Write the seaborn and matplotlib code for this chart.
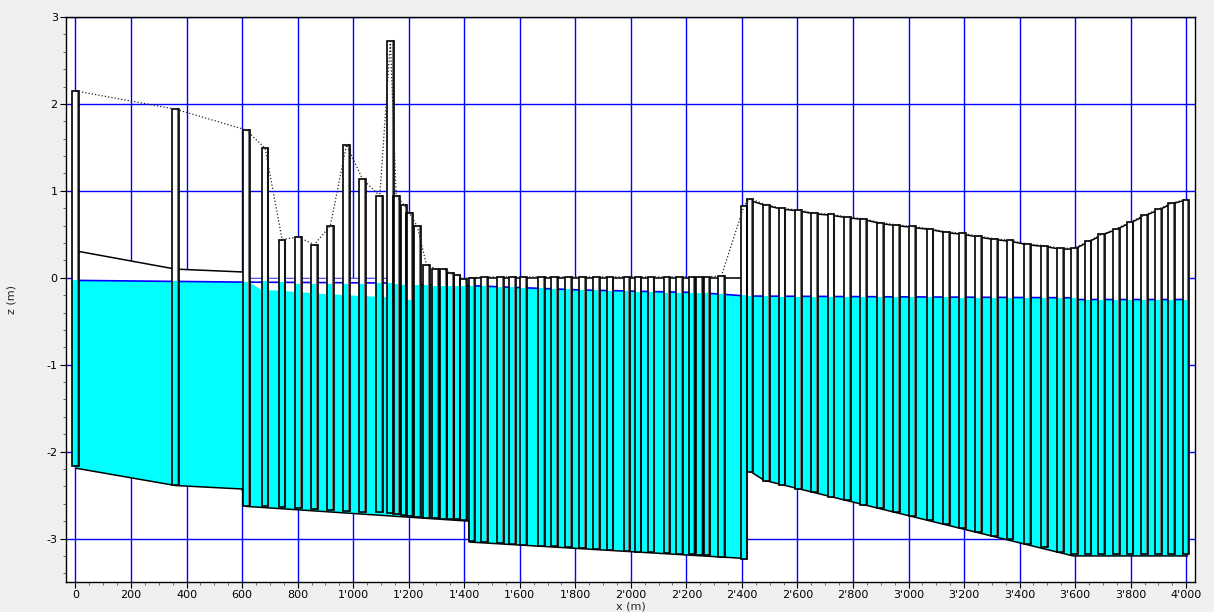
import numpy as np
import matplotlib
matplotlib.use("Agg")
import matplotlib.pyplot as plt
from matplotlib.patches import Rectangle
from matplotlib.ticker import MultipleLocator, FuncFormatter
import seaborn as sns

sns.set_style("ticks")
plt.rcParams['font.family'] = ['DejaVu Sans']

# ---------------- data ----------------
shaft_x = [0, 360, 615,
           683, 744, 802, 860, 918, 976, 1033, 1096, 1134, 1155, 1183, 1203, 1231,
           1264, 1297, 1325, 1350, 1374, 1398,
           1428, 1474, 1530, 1575, 1614, 1678, 1725, 1776, 1827, 1876, 1925, 1986,
           2026, 2073, 2130, 2175, 2220, 2247, 2274, 2326,
           2408, 2429, 2488, 2545, 2603, 2661, 2721, 2781, 2838, 2898, 2956, 3014,
           3078, 3136, 3194, 3251, 3309, 3366, 3429, 3489, 3547, 3597, 3647, 3696,
           3748, 3798, 3849, 3900, 3948, 3999]
shaft_top = [2.15, 1.94, 1.70,
             1.49, 0.44, 0.47, 0.38, 0.60, 1.53, 1.14, 0.94, 2.72, 0.94, 0.84, 0.74, 0.59,
             0.15, 0.105, 0.10, 0.05, 0.03, -0.01,
             0.00, 0.01, 0.01, 0.01, 0.01, 0.01, 0.01, 0.01, 0.01, 0.01, 0.01, 0.01,
             0.01, 0.01, 0.01, 0.01, 0.01, 0.01, 0.01, 0.02,
             0.83, 0.91, 0.84, 0.80, 0.78, 0.745, 0.73, 0.70, 0.68, 0.635, 0.61, 0.59,
             0.565, 0.53, 0.51, 0.48, 0.45, 0.43, 0.39, 0.37, 0.34, 0.34, 0.42, 0.50,
             0.565, 0.64, 0.72, 0.79, 0.86, 0.90]
shaft_bottom = [-2.17, -2.38, -2.62,
                -2.63, -2.64, -2.65, -2.66, -2.67, -2.68, -2.69, -2.70, -2.71, -2.72, -2.73, -2.74, -2.75,
                -2.76, -2.76, -2.77, -2.77, -2.78, -2.79,
                -3.03, -3.04, -3.05, -3.06, -3.07, -3.08, -3.09, -3.10, -3.11, -3.12, -3.13, -3.14,
                -3.15, -3.16, -3.17, -3.18, -3.18, -3.19, -3.19, -3.21,
                -3.23, -2.24, -2.34, -2.38, -2.43, -2.47, -2.52, -2.56, -2.61, -2.65, -2.70, -2.74,
                -2.79, -2.83, -2.88, -2.92, -2.97, -3.01, -3.06, -3.10, -3.15, -3.18, -3.18, -3.18,
                -3.18, -3.18, -3.18, -3.18, -3.18, -3.18]
shaft_water = [-0.03, -0.04, -0.05,
               -0.04, -0.05, -0.07, -0.07, -0.07, -0.07, -0.07, -0.06, -0.06, -0.07, -0.08, -0.26, -0.08,
               -0.085, -0.09, -0.09, -0.09, -0.09, -0.09,
               -0.09, -0.10, -0.11, -0.11, -0.12, -0.12, -0.13, -0.13, -0.14, -0.14, -0.15, -0.15,
               -0.16, -0.16, -0.17, -0.17, -0.18, -0.18, -0.18, -0.19,
               -0.20, -0.21, -0.21, -0.22, -0.22, -0.22, -0.22, -0.22, -0.22, -0.22, -0.22, -0.22,
               -0.22, -0.22, -0.23, -0.23, -0.23, -0.23, -0.23, -0.23, -0.23, -0.23, -0.25, -0.25,
               -0.25, -0.25, -0.25, -0.25, -0.25, -0.25]

invert_x = [0, 360, 600, 615, 1418, 1418, 2417, 2417, 2480, 3593, 4005]
invert_z = [-2.19, -2.39, -2.43, -2.63, -2.80, -3.04, -3.23, -2.20, -2.33, -3.20, -3.20]

crown1_x = [0, 360, 615]
crown1_z = [0.31, 0.10, 0.065]
crown2_x = [615, 1240, 1252, 1290, 1320, 1345, 1370, 1395, 1418]
crown2_z = [-0.01, -0.01, 0.15, 0.11, 0.10, 0.05, 0.03, -0.01, 0.0]
crown3_x = [1418, 2417]
crown3_z = [0.0, 0.0]
crown4_x = [2418, 2488, 2545, 2603, 2661, 2721, 2781, 2838, 2898, 2956, 3014, 3078, 3136,
            3194, 3251, 3309, 3366, 3429, 3489, 3547, 3597, 3647, 3696, 3748, 3798, 3849,
            3900, 3948, 4005]
crown4_z = [0.90, 0.83, 0.79, 0.77, 0.735, 0.72, 0.69, 0.67, 0.625, 0.60, 0.58, 0.555, 0.52,
            0.50, 0.47, 0.44, 0.42, 0.38, 0.36, 0.33, 0.33, 0.41, 0.49, 0.555, 0.63, 0.71,
            0.78, 0.85, 0.90]

pipe_water_x = [0, 615, 630, 670, 744, 802, 860, 918, 976, 1033, 1096, 1125, 1140, 1220,
                1418, 1818, 2239, 2333, 2417, 3597, 3610, 4005]
pipe_water_z = [-0.03, -0.05, -0.06, -0.14, -0.15, -0.165, -0.18, -0.19, -0.20, -0.21, -0.22,
                -0.225, -0.06, -0.08, -0.09, -0.14, -0.17, -0.19, -0.21, -0.23, -0.25, -0.25]

wl_x = [0, 615, 1134, 1220, 1418, 1818, 2239, 2333, 2417, 3597, 3610, 4005]
wl_z = [-0.03, -0.05, -0.06, -0.08, -0.09, -0.14, -0.17, -0.19, -0.21, -0.23, -0.25, -0.25]

x_ticks = list(range(0, 4001, 200))
y_ticks = [-3, -2, -1, 0, 1, 2, 3]

# ---------------- figure ----------------
fig = plt.figure(figsize=(12.14, 6.12), dpi=100, facecolor='#f0f0f0')
ax = fig.add_axes([0.0544, 0.049, 0.9300, 0.9232])
ax.set_facecolor('white')
ax.set_xlim(-34, 4032)
ax.set_ylim(-3.5, 3.0)

ax.set_axisbelow(True)
ax.grid(True, which='major', color='#0000ff', linewidth=1.0)

# pipe body (crown to invert) in white, hiding the grid
crown_x = crown1_x + crown2_x + crown3_x + crown4_x
crown_z = crown1_z + crown2_z + crown3_z + crown4_z
ax.fill(np.r_[crown_x, invert_x[::-1]], np.r_[crown_z, invert_z[::-1]],
        facecolor='white', edgecolor='none', zorder=1.1)
# water body
ax.fill(np.r_[pipe_water_x, invert_x[::-1]], np.r_[pipe_water_z, invert_z[::-1]],
        facecolor='#00ffff', edgecolor='none', zorder=1.2)

# lines
sns.lineplot(x=invert_x, y=invert_z, sort=False, estimator=None, color='black',
             linewidth=1.1, ax=ax, zorder=2)
for cx, cz in [(crown1_x, crown1_z), (crown3_x, crown3_z), (crown4_x, crown4_z)]:
    sns.lineplot(x=cx, y=cz, sort=False, estimator=None, color='black',
                 linewidth=1.1, ax=ax, zorder=2)
sns.lineplot(x=wl_x, y=wl_z, sort=False, estimator=None, color='#0000ff',
             linewidth=1.2, ax=ax, zorder=2.1)

# shafts
w = 24
for x, t, b, wl in zip(shaft_x, shaft_top, shaft_bottom, shaft_water):
    ax.add_patch(Rectangle((x - w / 2, wl), w, t - wl, facecolor='white',
                           edgecolor='none', zorder=3))
    ax.add_patch(Rectangle((x - w / 2, b), w, wl - b, facecolor='#00ffff',
                           edgecolor='none', zorder=3))
    ax.plot([x + w / 2 - 3, x + w / 2 - 3], [b, t], color='#7a7a7a', linewidth=1.5,
            zorder=3.5)
    ax.add_patch(Rectangle((x - w / 2, b), w, t - b, fill=False,
                           edgecolor='black', linewidth=1.2, zorder=4))

# ground line (dotted) connecting shaft tops
sns.lineplot(x=shaft_x, y=shaft_top, sort=False, estimator=None, color='#222222',
             linewidth=0.9, linestyle=':', ax=ax, zorder=5)

# axes styling
ax.set_xticks(x_ticks)
ax.set_yticks(y_ticks)
ax.xaxis.set_minor_locator(MultipleLocator(50))
ax.yaxis.set_minor_locator(MultipleLocator(0.2))
ax.xaxis.set_major_formatter(FuncFormatter(lambda v, p: f"{int(round(v)):,}".replace(',', "'")))
ax.yaxis.set_major_formatter(FuncFormatter(lambda v, p: f"{int(round(v))}"))
ax.tick_params(which='major', direction='out', length=4, width=0.8, labelsize=8,
               colors='black', pad=2)
ax.tick_params(which='minor', direction='out', length=2.5, width=0.6, colors='#555555')
for s in ax.spines.values():
    s.set_color('black')
    s.set_linewidth(1.0)
    s.set_zorder(6)
ax.set_xlabel('x (m)', fontsize=8, labelpad=1)
ax.set_ylabel('z (m)', fontsize=8, labelpad=22)

fig.savefig('out.png', dpi=100, facecolor=fig.get_facecolor())
